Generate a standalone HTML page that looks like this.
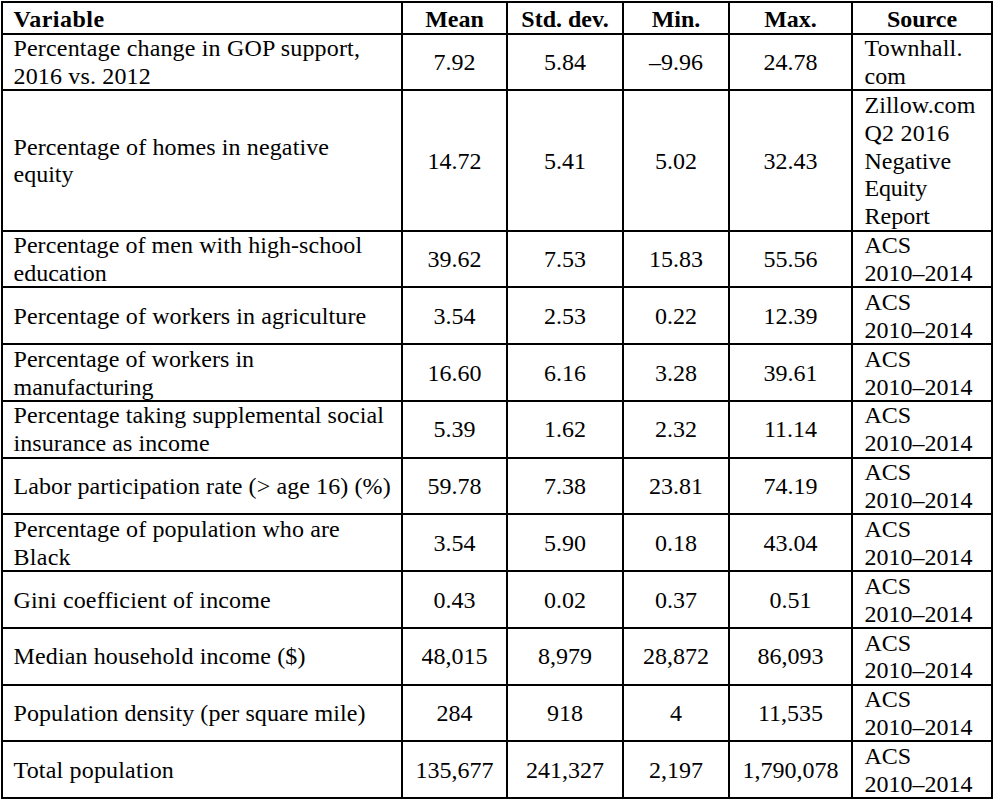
<!DOCTYPE html>
<html><head><meta charset="utf-8"><title>Summary statistics</title><style>

html,body{margin:0;padding:0;background:#fff;}
body{width:994px;height:800px;overflow:hidden;position:relative;}
table{position:absolute;left:1px;top:1px;border-collapse:separate;border-spacing:0;border-left:2px solid #000;border-top:2px solid #000;table-layout:fixed;}
td,th{border-right:2px solid #000;border-bottom:2px solid #000;padding:0;vertical-align:top;font-weight:normal;text-align:left;}
.c{position:relative;overflow:visible;font-family:"Liberation Serif","Times New Roman",serif;font-size:24px;line-height:28px;color:#000;white-space:nowrap;}
th .c{font-weight:bold;}
.c>div{position:absolute;height:28px;}
.l>div{left:10.5px;}
.s>div{left:11.5px;}
.m>div{left:0;right:0;text-align:center;}

</style></head><body>
<table>
<colgroup><col style="width:400px"><col style="width:105px"><col style="width:116px"><col style="width:106px"><col style="width:123px"><col style="width:140px"></colgroup>
<tr><th><div class="c l" style="width:398px;height:30px"><div style="top:2px;letter-spacing:0.50px">Variable</div></div></th><th><div class="c m" style="width:103px;height:30px"><div style="top:2px">Mean</div></div></th><th><div class="c m" style="width:114px;height:30px"><div style="top:2px">Std. dev.</div></div></th><th><div class="c m" style="width:104px;height:30px"><div style="top:2px">Min.</div></div></th><th><div class="c m" style="width:121px;height:30px"><div style="top:2px">Max.</div></div></th><th><div class="c m" style="width:138px;height:30px"><div style="top:2px">Source</div></div></th></tr>
<tr><td><div class="c l" style="width:398px;height:54px"><div style="top:-1px;letter-spacing:0.17px">Percentage change in GOP support,</div><div style="top:27px;letter-spacing:0.16px">2016 vs. 2012</div></div></td><td><div class="c m" style="width:103px;height:54px"><div style="top:13px">7.92</div></div></td><td><div class="c m" style="width:114px;height:54px"><div style="top:13px">5.84</div></div></td><td><div class="c m" style="width:104px;height:54px"><div style="top:13px">–9.96</div></div></td><td><div class="c m" style="width:121px;height:54px"><div style="top:13px">24.78</div></div></td><td><div class="c s" style="width:138px;height:54px"><div style="top:-1px;letter-spacing:0.21px">Townhall.</div><div style="top:27px">com</div></div></td></tr>
<tr><td><div class="c l" style="width:398px;height:139px"><div style="top:42px;letter-spacing:0.12px">Percentage of homes in negative</div><div style="top:69px">equity</div></div></td><td><div class="c m" style="width:103px;height:139px"><div style="top:56px">14.72</div></div></td><td><div class="c m" style="width:114px;height:139px"><div style="top:56px">5.41</div></div></td><td><div class="c m" style="width:104px;height:139px"><div style="top:56px">5.02</div></div></td><td><div class="c m" style="width:121px;height:139px"><div style="top:56px">32.43</div></div></td><td><div class="c s" style="width:138px;height:139px"><div style="top:0px;letter-spacing:0.12px">Zillow.com</div><div style="top:28px;letter-spacing:0.23px">Q2 2016</div><div style="top:56px">Negative</div><div style="top:83px;letter-spacing:-0.24px">Equity</div><div style="top:111px">Report</div></div></td></tr>
<tr><td><div class="c l" style="width:398px;height:54px"><div style="top:-1px;letter-spacing:0.06px">Percentage of men with high-school</div><div style="top:27px">education</div></div></td><td><div class="c m" style="width:103px;height:54px"><div style="top:13px">39.62</div></div></td><td><div class="c m" style="width:114px;height:54px"><div style="top:13px">7.53</div></div></td><td><div class="c m" style="width:104px;height:54px"><div style="top:13px">15.83</div></div></td><td><div class="c m" style="width:121px;height:54px"><div style="top:13px">55.56</div></div></td><td><div class="c s" style="width:138px;height:54px"><div style="top:-1px">ACS</div><div style="top:27px">2010–2014</div></div></td></tr>
<tr><td><div class="c l" style="width:398px;height:55px"><div style="top:14px;letter-spacing:0.10px">Percentage of workers in agriculture</div></div></td><td><div class="c m" style="width:103px;height:55px"><div style="top:14px">3.54</div></div></td><td><div class="c m" style="width:114px;height:55px"><div style="top:14px">2.53</div></div></td><td><div class="c m" style="width:104px;height:55px"><div style="top:14px">0.22</div></div></td><td><div class="c m" style="width:121px;height:55px"><div style="top:14px">12.39</div></div></td><td><div class="c s" style="width:138px;height:55px"><div style="top:0px">ACS</div><div style="top:28px">2010–2014</div></div></td></tr>
<tr><td><div class="c l" style="width:398px;height:55px"><div style="top:0px;letter-spacing:0.06px">Percentage of workers in</div><div style="top:28px">manufacturing</div></div></td><td><div class="c m" style="width:103px;height:55px"><div style="top:14px">16.60</div></div></td><td><div class="c m" style="width:114px;height:55px"><div style="top:14px">6.16</div></div></td><td><div class="c m" style="width:104px;height:55px"><div style="top:14px">3.28</div></div></td><td><div class="c m" style="width:121px;height:55px"><div style="top:14px">39.61</div></div></td><td><div class="c s" style="width:138px;height:55px"><div style="top:0px">ACS</div><div style="top:28px">2010–2014</div></div></td></tr>
<tr><td><div class="c l" style="width:398px;height:55px"><div style="top:-1px;letter-spacing:0.09px">Percentage taking supplemental social</div><div style="top:27px;letter-spacing:0.08px">insurance as income</div></div></td><td><div class="c m" style="width:103px;height:55px"><div style="top:13px">5.39</div></div></td><td><div class="c m" style="width:114px;height:55px"><div style="top:13px">1.62</div></div></td><td><div class="c m" style="width:104px;height:55px"><div style="top:13px">2.32</div></div></td><td><div class="c m" style="width:121px;height:55px"><div style="top:13px">11.14</div></div></td><td><div class="c s" style="width:138px;height:55px"><div style="top:-1px">ACS</div><div style="top:27px">2010–2014</div></div></td></tr>
<tr><td><div class="c l" style="width:398px;height:54px"><div style="top:13px;letter-spacing:0.10px">Labor participation rate (&gt; age 16) (%)</div></div></td><td><div class="c m" style="width:103px;height:54px"><div style="top:13px">59.78</div></div></td><td><div class="c m" style="width:114px;height:54px"><div style="top:13px">7.38</div></div></td><td><div class="c m" style="width:104px;height:54px"><div style="top:13px">23.81</div></div></td><td><div class="c m" style="width:121px;height:54px"><div style="top:13px">74.19</div></div></td><td><div class="c s" style="width:138px;height:54px"><div style="top:-1px">ACS</div><div style="top:27px">2010–2014</div></div></td></tr>
<tr><td><div class="c l" style="width:398px;height:55px"><div style="top:0px;letter-spacing:0.12px">Percentage of population who are</div><div style="top:28px;letter-spacing:0.28px">Black</div></div></td><td><div class="c m" style="width:103px;height:55px"><div style="top:14px">3.54</div></div></td><td><div class="c m" style="width:114px;height:55px"><div style="top:14px">5.90</div></div></td><td><div class="c m" style="width:104px;height:55px"><div style="top:14px">0.18</div></div></td><td><div class="c m" style="width:121px;height:55px"><div style="top:14px">43.04</div></div></td><td><div class="c s" style="width:138px;height:55px"><div style="top:0px">ACS</div><div style="top:28px">2010–2014</div></div></td></tr>
<tr><td><div class="c l" style="width:398px;height:55px"><div style="top:14px;letter-spacing:0.15px">Gini coefficient of income</div></div></td><td><div class="c m" style="width:103px;height:55px"><div style="top:14px">0.43</div></div></td><td><div class="c m" style="width:114px;height:55px"><div style="top:14px">0.02</div></div></td><td><div class="c m" style="width:104px;height:55px"><div style="top:14px">0.37</div></div></td><td><div class="c m" style="width:121px;height:55px"><div style="top:14px">0.51</div></div></td><td><div class="c s" style="width:138px;height:55px"><div style="top:0px">ACS</div><div style="top:28px">2010–2014</div></div></td></tr>
<tr><td><div class="c l" style="width:398px;height:55px"><div style="top:13px;letter-spacing:0.13px">Median household income ($)</div></div></td><td><div class="c m" style="width:103px;height:55px"><div style="top:13px">48,015</div></div></td><td><div class="c m" style="width:114px;height:55px"><div style="top:13px">8,979</div></div></td><td><div class="c m" style="width:104px;height:55px"><div style="top:13px">28,872</div></div></td><td><div class="c m" style="width:121px;height:55px"><div style="top:13px">86,093</div></div></td><td><div class="c s" style="width:138px;height:55px"><div style="top:0px">ACS</div><div style="top:27px">2010–2014</div></div></td></tr>
<tr><td><div class="c l" style="width:398px;height:54px"><div style="top:13px;letter-spacing:0.08px">Population density (per square mile)</div></div></td><td><div class="c m" style="width:103px;height:54px"><div style="top:13px">284</div></div></td><td><div class="c m" style="width:114px;height:54px"><div style="top:13px">918</div></div></td><td><div class="c m" style="width:104px;height:54px"><div style="top:13px">4</div></div></td><td><div class="c m" style="width:121px;height:54px"><div style="top:13px">11,535</div></div></td><td><div class="c s" style="width:138px;height:54px"><div style="top:-1px">ACS</div><div style="top:27px">2010–2014</div></div></td></tr>
<tr><td><div class="c l" style="width:398px;height:55px"><div style="top:14px;letter-spacing:0.18px">Total population</div></div></td><td><div class="c m" style="width:103px;height:55px"><div style="top:14px">135,677</div></div></td><td><div class="c m" style="width:114px;height:55px"><div style="top:14px">241,327</div></div></td><td><div class="c m" style="width:104px;height:55px"><div style="top:14px">2,197</div></div></td><td><div class="c m" style="width:121px;height:55px"><div style="top:14px">1,790,078</div></div></td><td><div class="c s" style="width:138px;height:55px"><div style="top:0px">ACS</div><div style="top:28px">2010–2014</div></div></td></tr>
</table>
</body></html>
